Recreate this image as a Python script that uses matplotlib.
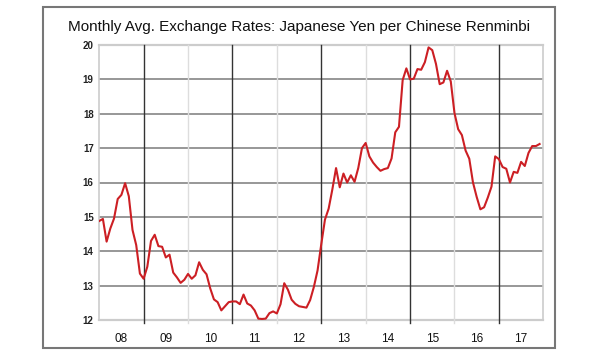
import matplotlib
matplotlib.use("Agg")
import matplotlib.pyplot as plt
from matplotlib.patches import Rectangle
import numpy as np

plt.rcParams['font.family'] = ['Liberation Sans', 'DejaVu Sans']

title = "Monthly Avg. Exchange Rates: Japanese Yen per Chinese Renminbi"
start_year = 2008
year_labels = ['08', '09', '10', '11', '12', '13', '14', '15', '16', '17']
y_ticks = [12, 13, 14, 15, 16, 17, 18, 19, 20]

# Monthly average JPY per CNY, Jan 2008 .. Dec 2017
rates_2008 = [14.88, 14.94, 14.28, 14.66, 14.95, 15.52, 15.64, 15.98, 15.60, 14.62, 14.18, 13.35]
rates_2009 = [13.20, 13.55, 14.30, 14.48, 14.15, 14.13, 13.82, 13.90, 13.38, 13.24, 13.08, 13.17]
rates_2010 = [13.34, 13.20, 13.30, 13.68, 13.46, 13.33, 12.92, 12.60, 12.52, 12.28, 12.40, 12.52]
rates_2011 = [12.54, 12.54, 12.46, 12.74, 12.48, 12.42, 12.28, 12.04, 12.03, 12.04, 12.20, 12.25]
rates_2012 = [12.19, 12.46, 13.07, 12.88, 12.59, 12.47, 12.40, 12.38, 12.36, 12.58, 12.96, 13.44]
rates_2013 = [14.20, 14.92, 15.24, 15.80, 16.42, 15.86, 16.26, 16.00, 16.21, 16.02, 16.42, 17.00]
rates_2014 = [17.15, 16.76, 16.58, 16.45, 16.34, 16.39, 16.42, 16.70, 17.46, 17.62, 18.98, 19.32]
rates_2015 = [19.00, 19.02, 19.30, 19.28, 19.50, 19.93, 19.85, 19.45, 18.86, 18.91, 19.25, 18.94]
rates_2016 = [18.02, 17.55, 17.38, 16.93, 16.69, 16.00, 15.58, 15.22, 15.28, 15.56, 15.88, 16.76]
rates_2017 = [16.68, 16.45, 16.40, 16.00, 16.31, 16.28, 16.60, 16.48, 16.86, 17.06, 17.06, 17.12]

rates = (rates_2008 + rates_2009 + rates_2010 + rates_2011 + rates_2012 +
         rates_2013 + rates_2014 + rates_2015 + rates_2016 + rates_2017)
months = start_year + np.arange(len(rates)) / 12.0
n_years = len(year_labels)

fig = plt.figure(figsize=(6, 3.56), dpi=100)
ax = fig.add_axes([99.2 / 600, 1 - 320 / 356, (543.3 - 99.2) / 600, (320 - 45) / 356])

ax.set_xlim(start_year, start_year + n_years)
ax.set_ylim(12, 20)

# horizontal grid
for v in y_ticks:
    if v in (12, 20):
        ax.axhline(v, color='#cccccc', lw=1.6, zorder=1, clip_on=False)
    else:
        ax.axhline(v, color='#7a7a7a', lw=1.1, zorder=1)

# vertical year boundaries
for k in range(1, n_years):
    xb = start_year + k
    if k % 2 == 1:
        ax.axvline(xb, ymin=-0.012, ymax=1, color='#333333', lw=1.0, zorder=1, clip_on=False)
    else:
        ax.axvline(xb, ymin=-0.012, ymax=1, color='#dddddd', lw=1.0, zorder=1, clip_on=False)

ax.plot(months, rates, color='#cc1f24', lw=1.5, zorder=3, solid_joinstyle='round')

for s in ['left', 'right']:
    ax.spines[s].set_color('#cccccc')
    ax.spines[s].set_linewidth(1.2)
for s in ['top', 'bottom']:
    ax.spines[s].set_visible(False)

ax.set_yticks(y_ticks)
ax.set_yticklabels([str(v) for v in y_ticks], fontsize=7, fontweight='bold', color='#222222')
ax.tick_params(axis='y', length=0, pad=4)

mid = [start_year + k + 0.5 for k in range(n_years)]
ax.set_xticks(mid)
ax.set_xticklabels(year_labels, fontsize=8.5, color='#111111')
ax.tick_params(axis='x', length=0, pad=9)

fig.text(0.499, 1 - 27 / 356, title, ha='center', va='center', fontsize=11, color='#111111')

fig.add_artist(Rectangle((43 / 600, 1 - 348 / 356), (555 - 43) / 600, (348 - 7) / 356,
                         transform=fig.transFigure, fill=False, edgecolor='#777777', lw=1.5))

fig.savefig('out.png', dpi=100)
